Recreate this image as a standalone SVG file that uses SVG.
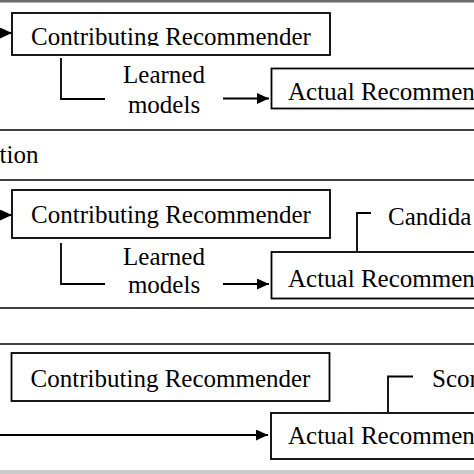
<svg xmlns="http://www.w3.org/2000/svg" width="474" height="474" viewBox="0 0 474 474">
<style>
.box{fill:#fff;stroke:#000;stroke-width:1.8}
.ln{fill:none;stroke:#000;stroke-width:1.8}
.sep{stroke:#000;stroke-width:1.6}
.t{font-family:"Liberation Serif","Times New Roman",serif;font-size:25px;fill:#000}
.c{text-anchor:middle}
</style>
<defs>
<marker id="ah" markerUnits="userSpaceOnUse" markerWidth="13" markerHeight="11" refX="12" refY="5.5" orient="auto">
<path d="M0,0 L12,5.5 L0,11 Z" fill="#000"/>
</marker>
<clipPath id="clip1"><rect x="0" y="0" width="474" height="46"/></clipPath>
</defs>
<rect x="0" y="0" width="474" height="474" fill="#fff"/>
<rect x="0" y="0" width="474" height="2.5" fill="#6b6b6b"/>
<rect x="0" y="470" width="474" height="4" fill="#cccccc"/>
<g id="separators">
<line class="sep" x1="0" y1="130" x2="474" y2="130"/>
<line class="sep" x1="0" y1="180" x2="474" y2="180"/>
<line class="sep" x1="0" y1="308" x2="474" y2="308"/>
<line class="sep" x1="0" y1="344" x2="474" y2="344"/>
</g>
<text id="label-tion" class="t" x="-0.5" y="163">tion</text>
<g id="connectors">
<line class="ln" x1="-2" y1="33" x2="12" y2="33" marker-end="url(#ah)"/>
<polyline class="ln" points="61,58 61,99 105,99"/>
<line class="ln" x1="223" y1="98.5" x2="269" y2="98.5" marker-end="url(#ah)"/>
<line class="ln" x1="-2" y1="215" x2="12" y2="215" marker-end="url(#ah)"/>
<polyline class="ln" points="61,243 61,284 105,284"/>
<line class="ln" x1="223" y1="284" x2="269" y2="284" marker-end="url(#ah)"/>
<polyline class="ln" points="357,251 357,213 371,213"/>
<line class="ln" x1="-2" y1="435" x2="268" y2="435" marker-end="url(#ah)"/>
<polyline class="ln" points="388,412 388,376.5 413,376.5"/>
</g>
<g id="p1-contributing">
<rect class="box" x="12" y="13" width="318" height="42"/>
<text class="t c" x="171" y="45" clip-path="url(#clip1)">Contributing Recommender</text>
</g>
<g id="p1-learned">
<text class="t c" x="164" y="83">Learned</text>
<text class="t c" x="164" y="113">models</text>
</g>
<g id="p1-actual">
<rect class="box" x="271.5" y="68.5" width="210" height="40"/>
<text class="t" x="288" y="99.5">Actual Recommen</text>
</g>
<g id="p2-contributing">
<rect class="box" x="12" y="190" width="318" height="48"/>
<text class="t c" x="171" y="223">Contributing Recommender</text>
</g>
<g id="p2-learned">
<text class="t c" x="164" y="265">Learned</text>
<text class="t c" x="164" y="293">models</text>
</g>
<g id="p2-actual">
<rect class="box" x="271.5" y="252" width="210" height="46.5"/>
<text class="t" x="288" y="287">Actual Recommen</text>
</g>
<g id="p2-candidates">
<text class="t" x="388" y="224.5">Candida</text>
</g>
<g id="p3-contributing">
<rect class="box" x="11.5" y="353" width="318" height="48"/>
<text class="t c" x="170.5" y="387">Contributing Recommender</text>
</g>
<g id="p3-scores">
<text class="t" x="432" y="387">Scor</text>
</g>
<g id="p3-actual">
<rect class="box" x="271" y="413" width="210" height="46"/>
<text class="t" x="288" y="444">Actual Recommen</text>
</g>
</svg>
